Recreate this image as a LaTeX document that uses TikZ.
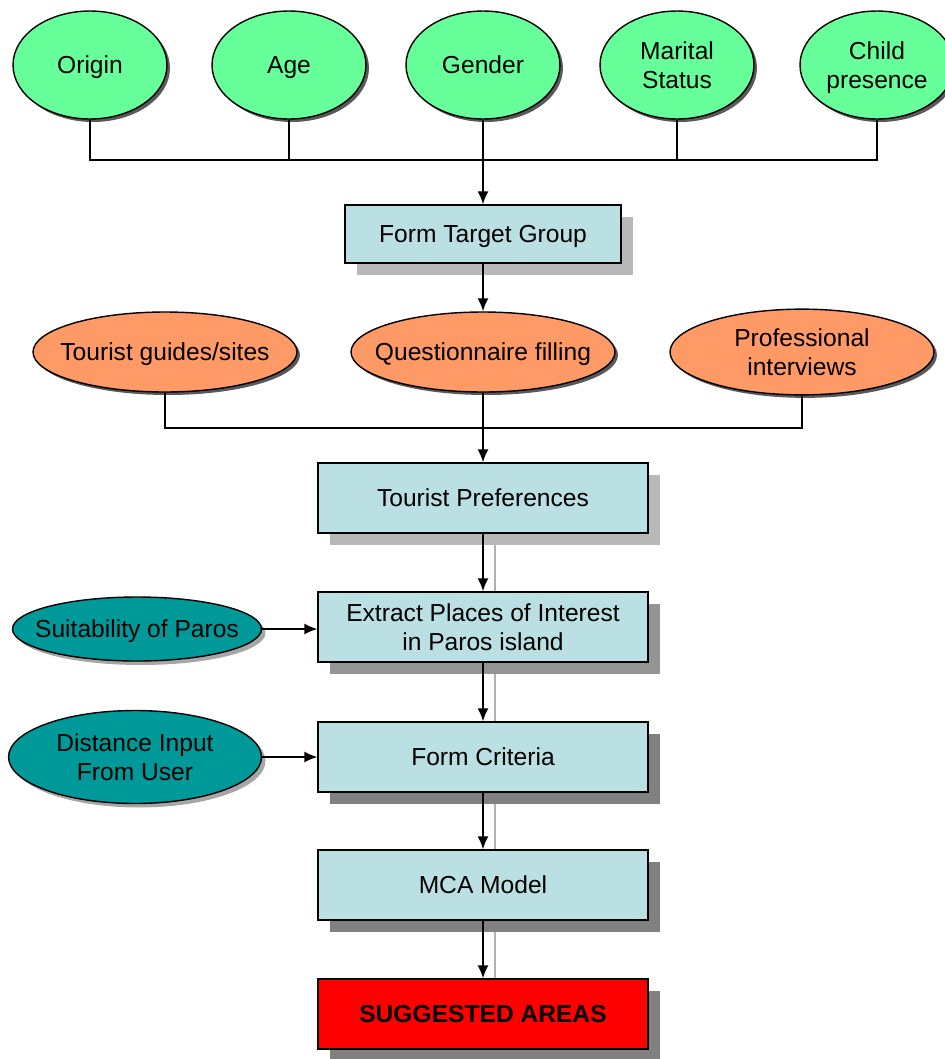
\documentclass[tikz,border=0pt]{standalone}
\usepackage{fontspec}
\setmainfont{Liberation Sans}
\usetikzlibrary{shapes.geometric,shadows,arrows.meta,backgrounds}
\definecolor{factgreen}{HTML}{66FF99}
\definecolor{sourceorange}{HTML}{FF9966}
\definecolor{inputteal}{HTML}{009999}
\definecolor{stepblue}{HTML}{BAE0E3}
\definecolor{resultred}{HTML}{FF0000}
\newcommand{\labelstrut}{\rule[-4pt]{0pt}{18pt}}
\tikzset{factor/.style={ellipse, draw=black, fill=factgreen, line width=0.8pt, minimum width=3.08cm, minimum height=2.16cm, inner xsep=-0.6cm, inner ysep=0pt, align=center, drop shadow={shadow xshift=0.06cm, shadow yshift=-0.06cm, fill=black!65, opacity=1}},
  source/.style={factor, fill=sourceorange, minimum width=5.28cm, minimum height=1.6cm},
  userin/.style={factor, fill=inputteal, minimum height=1.28cm, drop shadow={shadow xshift=0.08cm, shadow yshift=-0.08cm, fill=black!35, opacity=1}},
  stepbox/.style={rectangle, draw=black, fill=stepblue, line width=0.8pt, minimum width=6.6cm, minimum height=1.4cm, inner sep=0pt, align=center, drop shadow={shadow xshift=0.24cm, shadow yshift=-0.24cm, fill=black!50, opacity=1}},
  lightbox/.style={stepbox, drop shadow={shadow xshift=0.24cm, shadow yshift=-0.24cm, fill=black!28, opacity=1}},
  link/.style={line width=0.9pt, -{Latex[length=2.6mm,width=2.2mm]}},
  joint/.style={line width=0.9pt},
  linkshadow/.style={black!30, line width=0.7pt},
  every node/.style={execute at begin node=\labelstrut, execute at end node=\labelstrut}}

\begin{document}
\begin{tikzpicture}[x=0.02cm, y=-0.02cm, font=\fontsize{14}{16.5}\selectfont]
	\useasboundingbox (0,0) rectangle (944,1059);
	%Merkmale
	\node[factor] (origin) at (90,65) {Origin};
	\node[factor] (age) at (289,65) {Age};
	\node[factor] (gender) at (483,65) {Gender};
	\node[factor] (marital) at (677,65) {\labelstrut Marital\\Status};
	\node[factor] (child) at (877,65) {\labelstrut Child\\presence};
	\node[lightbox, minimum width=5.52cm, minimum height=1.16cm] (target) at (483,234) {Form Target Group};
	%Quellen
	\node[source] (guides) at (165,352) {Tourist guides/sites};
	\node[source] (questionnaire) at (483,352) {Questionnaire filling};
	\node[source] (interviews) at (802,352) {\labelstrut Professional\\interviews};
	%Ablauf
	\node[lightbox] (prefs) at (483,498) {Tourist Preferences};
	\node[stepbox, drop shadow={shadow xshift=0.24cm, shadow yshift=-0.24cm, fill=black!42, opacity=1}] (extract) at (483,627) {\labelstrut Extract Places of Interest\\in Paros island};
	\node[stepbox] (criteria) at (483,757) {Form Criteria};
	\node[stepbox] (mca) at (483,885) {MCA Model};
	\node[stepbox, fill=resultred, font=\fontsize{14}{16.5}\selectfont\bfseries] (suggested) at (483,1014) {SUGGESTED AREAS};
	%Eingaben
	\node[userin, minimum width=4.98cm] (suitability) at (137,629) {Suitability of Paros};
	\node[userin, minimum width=5.06cm, minimum height=1.86cm] (distance) at (135,757) {\labelstrut Distance Input\\From User};
	%Verbindungen
	\coordinate (jointop) at (483,160);
	\coordinate (joinmid) at (483,428);
	\draw[joint] (origin.south) |- (jointop) -| (child.south);
	\draw[joint] (age.south) -- (age.south |- jointop);
	\draw[joint] (marital.south) -- (marital.south |- jointop);
	\draw[link] (gender.south) -- (target.north);
	\draw[link] (target.south) -- (questionnaire.north);
	\draw[joint] (guides.south) |- (joinmid) -| (interviews.south);
	\draw[link] (questionnaire.south) -- (prefs.north);
	\draw[link] (prefs.south) -- (extract.north);
	\draw[link] (extract.south) -- (criteria.north);
	\draw[link] (criteria.south) -- (mca.north);
	\draw[link] (mca.south) -- (suggested.north);
	\draw[link] (suitability.east) -- (suitability.east -| extract.west);
	\draw[link] (distance.east) -- (distance.east -| criteria.west);
	\begin{pgfonlayer}{background}
		\draw[linkshadow] ([xshift=0.24cm]prefs.south) -- ([xshift=0.24cm]suggested.north);
	\end{pgfonlayer}
\end{tikzpicture}
\end{document}
